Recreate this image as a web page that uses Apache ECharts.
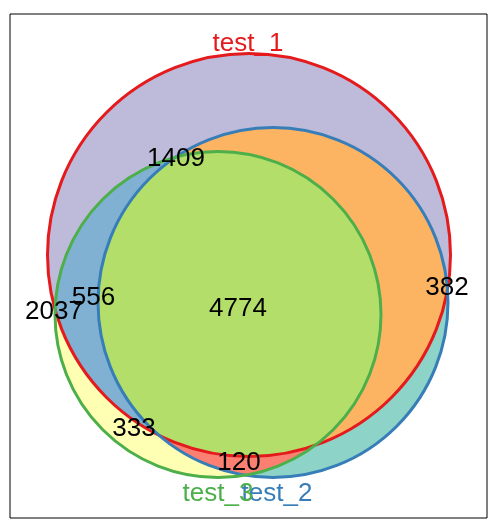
<!DOCTYPE html>
<html>
<head>
    <meta charset="utf-8">
    <title>venn</title>
    <script src="https://cdn.jsdelivr.net/npm/echarts@6/dist/echarts.min.js"></script>
    <style>
        html, body { margin: 0; padding: 0; background: #fff; }
        #chart { width: 500px; height: 525px; }
    </style>
</head>
<body>
<div id="chart"></div>
<script>
    // sets: circle centre / radius in plot units
    var setNames = ['test_1', 'test_2', 'test_3'];
    var setX = [239, 263, 208];
    var setY = [263, 215.5, 203.5];
    var setR = [201.5, 175, 163];
    var setColors = ['#E41A1C', '#377EB8', '#4DAF4A'];
    var nameX = [238, 267, 208];
    var nameY = [474.5, 24.5, 24.5];

    // region counts and where they are written
    var counts = [1409, 382, 2037, 556, 4774, 333, 120];
    var countX = [166, 437, 44, 83.5, 228, 124, 229];
    var countY = [359.5, 230.5, 206.5, 220.5, 209.5, 89.5, 55.5];

    // painted in this order, later regions cover earlier ones
    var regionSets = [[0], [1], [2], [0, 1], [0, 2], [1, 2], [0, 1, 2]];
    var regionFill = ['#BEBADA', '#8DD3C7', '#FFFFB3', '#FDB462', '#80B1D3', '#FB8072', '#B3DE69'];

    var N = 240;
    function circlePoly(i) {
        var pts = [];
        for (var k = 0; k < N; k++) {
            var a = 2 * Math.PI * k / N;
            pts.push([setX[i] + setR[i] * Math.cos(a), setY[i] + setR[i] * Math.sin(a)]);
        }
        return pts;
    }

    // Sutherland-Hodgman against a convex (ccw) polygon
    function clipPoly(subject, clip) {
        var out = subject;
        for (var e = 0; e < clip.length; e++) {
            var a = clip[e], b = clip[(e + 1) % clip.length];
            var input = out;
            out = [];
            if (!input.length) break;
            var side = function (p) {
                return (b[0] - a[0]) * (p[1] - a[1]) - (b[1] - a[1]) * (p[0] - a[0]);
            };
            for (var j = 0; j < input.length; j++) {
                var p = input[j], q = input[(j + 1) % input.length];
                var sp = side(p), sq = side(q);
                if (sq >= 0) {
                    if (sp < 0) {
                        var t = sp / (sp - sq);
                        out.push([p[0] + t * (q[0] - p[0]), p[1] + t * (q[1] - p[1])]);
                    }
                    out.push(q);
                } else if (sp >= 0) {
                    var t2 = sp / (sp - sq);
                    out.push([p[0] + t2 * (q[0] - p[0]), p[1] + t2 * (q[1] - p[1])]);
                }
            }
        }
        return out;
    }

    var regionPolys = regionSets.map(function (s) {
        var poly = circlePoly(s[0]);
        for (var k = 1; k < s.length; k++) {
            poly = clipPoly(poly, circlePoly(s[k]));
        }
        return poly;
    });

    var font = '"Liberation Sans", Arial, Helvetica, sans-serif';
    var nameData = setNames.map(function (n, i) { return [nameX[i], nameY[i], n, setColors[i]]; });
    var countData = counts.map(function (c, i) { return [countX[i], countY[i], String(c), '#000']; });

    function textSeries(rows) {
        return {
            type: 'custom',
            clip: false,
            data: rows,
            encode: { x: 0, y: 1 },
            renderItem: function (params, api) {
                var d = rows[params.dataIndex];
                var c = api.coord([d[0], d[1]]);
                return {
                    type: 'text',
                    x: c[0], y: c[1],
                    style: {
                        text: d[2], fill: d[3], fontSize: 26, fontFamily: font,
                        align: 'center', verticalAlign: 'middle'
                    }
                };
            }
        };
    }

    var option = {
        animation: false,
        backgroundColor: '#fff',
        grid: {
            left: 10, top: 14, width: 477, height: 504,
            show: true, borderColor: '#000', borderWidth: 1, backgroundColor: '#fff'
        },
        xAxis: { type: 'value', min: 0, max: 477, show: false },
        yAxis: { type: 'value', min: 0, max: 504, show: false },
        series: [{
            type: 'custom',
            clip: false,
            data: regionSets.map(function (s) { return [setX[s[0]], setY[s[0]]]; }),
            encode: { x: 0, y: 1 },
            renderItem: function (params, api) {
                var pts = regionPolys[params.dataIndex].map(function (p) { return api.coord(p); });
                return {
                    type: 'polygon',
                    shape: { points: pts },
                    style: { fill: regionFill[params.dataIndex], stroke: regionFill[params.dataIndex], lineWidth: 0.5 }
                };
            }
        },
        textSeries(nameData),
        {
            type: 'custom',
            clip: false,
            data: setX.map(function (x, i) { return [x, setY[i], setR[i]]; }),
            encode: { x: 0, y: 1 },
            renderItem: function (params, api) {
                var c = api.coord([api.value(0), api.value(1)]);
                var r = api.size([api.value(2), 0])[0];
                return {
                    type: 'circle',
                    shape: { cx: c[0], cy: c[1], r: r },
                    style: { fill: 'none', stroke: setColors[params.dataIndex], lineWidth: 3 }
                };
            }
        },
        textSeries(countData)]
    };

    var myChart = echarts.init(document.getElementById('chart'));
    myChart.setOption(option);
</script>
</body>
</html>
